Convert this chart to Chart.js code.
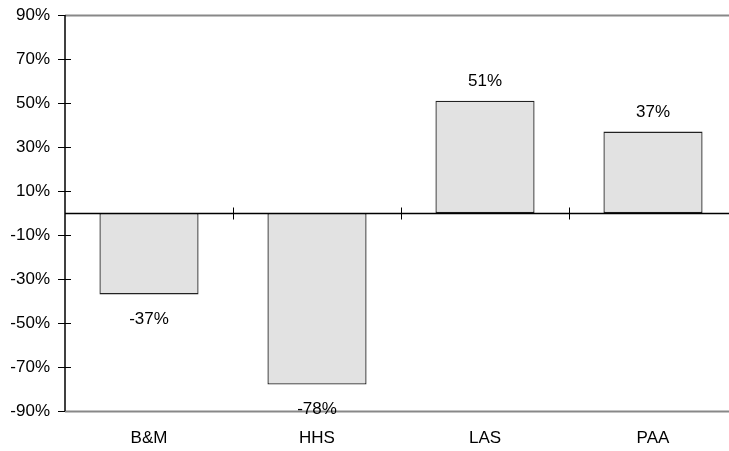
<!DOCTYPE html>
<html>
<head>
<meta charset="utf-8">
<script src="https://cdn.jsdelivr.net/npm/chart.js@4.4.1/dist/chart.umd.min.js"></script>
<style>
    html, body { margin: 0; padding: 0; background: #fff; overflow: hidden; }
    #wrap { width: 737px; height: 451px; }
</style>
</head>
<body>
<div id="wrap"><canvas id="myChart"></canvas></div>
<script>
const categories = ['B&M', 'HHS', 'LAS', 'PAA'];
const values = [-37, -78, 51, 37];
const tickValues = [-90, -70, -50, -30, -10, 10, 30, 50, 70, 90];

const FONT = '"Liberation Sans", Arial, sans-serif';

// frame lines, zero line with category ticks, crossing y ticks, value labels
const decorations = {
    id: 'decorations',
    afterDatasetsDraw(chart) {
        const { ctx, chartArea, scales } = chart;
        const x = scales.x, y = scales.y;
        ctx.save();

        // top and bottom gray lines
        ctx.strokeStyle = '#888';
        ctx.lineWidth = 2;
        [90, -90].forEach(v => {
            const py = Math.round(y.getPixelForValue(v)) + 0.5;
            ctx.beginPath();
            ctx.moveTo(chartArea.left, py);
            ctx.lineTo(chartArea.right, py);
            ctx.stroke();
        });

        // left axis line
        ctx.strokeStyle = '#000';
        ctx.lineWidth = 1.5;
        ctx.beginPath();
        ctx.moveTo(chartArea.left, y.getPixelForValue(90));
        ctx.lineTo(chartArea.left, y.getPixelForValue(-90));
        ctx.stroke();

        // y tick marks crossing the axis
        ctx.lineWidth = 1;
        tickValues.forEach(v => {
            const py = Math.round(y.getPixelForValue(v)) + 0.5;
            ctx.beginPath();
            ctx.moveTo(chartArea.left - 7, py);
            ctx.lineTo(chartArea.left + (Math.abs(v) === 90 ? 0 : 6), py);
            ctx.stroke();
        });

        // zero line
        const zy = Math.round(y.getPixelForValue(0)) + 0.5;
        ctx.lineWidth = 1.5;
        ctx.beginPath();
        ctx.moveTo(chartArea.left, zy);
        ctx.lineTo(chartArea.right, zy);
        ctx.stroke();

        // category boundary ticks on zero line
        ctx.lineWidth = 1;
        for (let i = 1; i < categories.length; i++) {
            const px = Math.round((x.getPixelForValue(i - 1) + x.getPixelForValue(i)) / 2) + 0.5;
            ctx.beginPath();
            ctx.moveTo(px, zy - 6);
            ctx.lineTo(px, zy + 6);
            ctx.stroke();
        }

        // value labels
        ctx.fillStyle = '#000';
        ctx.font = '17px ' + FONT;
        ctx.textAlign = 'center';
        ctx.textBaseline = 'middle';
        chart.getDatasetMeta(0).data.forEach((bar, i) => {
            const v = values[i];
            const ly = v >= 0 ? bar.y - 19 : bar.y + 25;
            ctx.fillText(v + '%', bar.x, ly);
        });

        ctx.restore();
    }
};

const ctx = document.getElementById('myChart').getContext('2d');
new Chart(ctx, {
    type: 'bar',
    data: {
        labels: categories,
        datasets: [{
            data: values,
            backgroundColor: '#e2e2e2',
            borderColor: '#222',
            borderWidth: 1.3,
            borderSkipped: false,
            categoryPercentage: 1,
            barPercentage: 0.59
        }]
    },
    options: {
        responsive: true,
        maintainAspectRatio: false,
        animation: false,
        layout: { padding: { top: 15, right: 0, left: 0, bottom: 0 } },
        plugins: {
            legend: { display: false },
            tooltip: { enabled: false }
        },
        scales: {
            x: {
                grid: { display: false, drawTicks: false },
                border: { display: false },
                ticks: {
                    color: '#000',
                    font: { family: FONT, size: 17 },
                    padding: 17,
                    maxRotation: 0
                },
                afterFit: (scale) => { scale.height = 40; }
            },
            y: {
                min: -90,
                max: 90,
                grid: { display: false, drawTicks: false },
                border: { display: false },
                afterBuildTicks: (scale) => {
                    scale.ticks = tickValues.map(v => ({ value: v }));
                },
                ticks: {
                    color: '#000',
                    font: { family: FONT, size: 17 },
                    padding: 15,
                    callback: (v) => v + '%'
                },
                afterFit: (scale) => {
                    scale.width = 65;
                    scale.paddingTop = 0;
                    scale.paddingBottom = 0;
                }
            }
        }
    },
    plugins: [decorations]
});
</script>
</body>
</html>
